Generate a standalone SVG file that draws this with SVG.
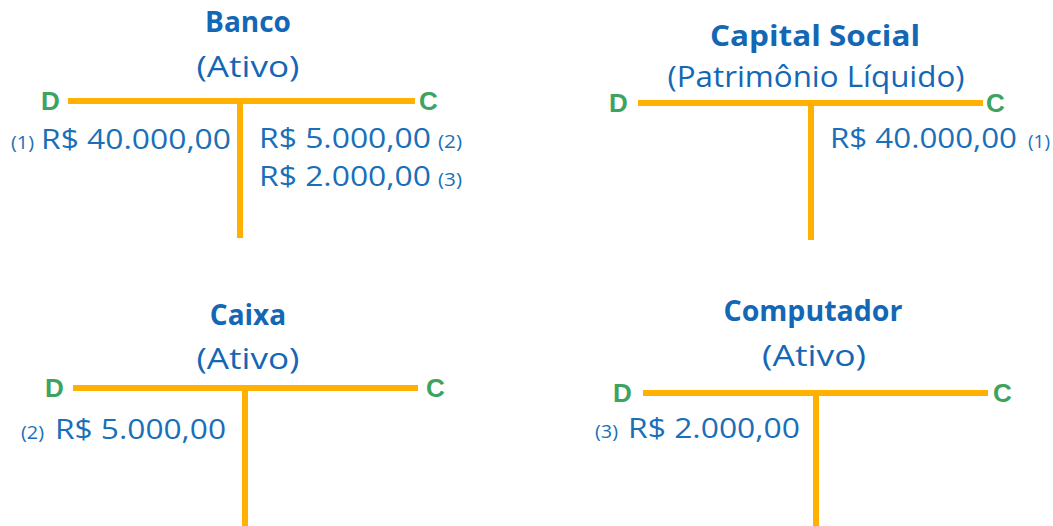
<svg xmlns="http://www.w3.org/2000/svg" width="1053" height="526" viewBox="0 0 1053 526">
<style>
.title{font-family:"Open Sans","DejaVu Sans",sans-serif;font-weight:bold;font-size:28px;fill:#1467B5;text-anchor:middle}
.sub{font-family:"Open Sans","DejaVu Sans",sans-serif;font-size:29px;fill:#1467B5;text-anchor:middle}
.dc{font-family:"Liberation Sans",Arial,sans-serif;font-weight:bold;font-size:26px;fill:#3DA35F}
.val{font-family:"Open Sans","DejaVu Sans",sans-serif;font-size:28px;fill:#1A6FB8}
.ref{font-family:"Open Sans","DejaVu Sans",sans-serif;font-size:18px;fill:#1A6FB8}
.t{stroke:#FFB000;stroke-width:6;fill:none}
</style>
<rect width="1053" height="526" fill="#ffffff"/>
<g id="connectors">
<path class="t" d="M68 101H415M240 101V238"/>
<path class="t" d="M638 103H983M811 103V240"/>
<path class="t" d="M73 388H418M245 388V526"/>
<path class="t" d="M643 393H988M816 393V526"/>
</g>
<g id="banco">
<text class="title" x="248" y="32">Banco</text>
<text class="sub" x="248" y="77" textLength="103" lengthAdjust="spacingAndGlyphs">(Ativo)</text>
<text class="dc" x="41" y="110">D</text>
<text class="dc" x="419" y="110">C</text>
<text class="ref" x="11" y="149" textLength="23" lengthAdjust="spacingAndGlyphs">(1)</text>
<text class="val" x="41" y="149" textLength="190" lengthAdjust="spacingAndGlyphs">R$ 40.000,00</text>
<text class="val" x="259" y="148" textLength="172" lengthAdjust="spacingAndGlyphs">R$ 5.000,00</text>
<text class="ref" x="438" y="148" textLength="24" lengthAdjust="spacingAndGlyphs">(2)</text>
<text class="val" x="259" y="186" textLength="172" lengthAdjust="spacingAndGlyphs">R$ 2.000,00</text>
<text class="ref" x="438" y="186" textLength="24" lengthAdjust="spacingAndGlyphs">(3)</text>
</g>
<g id="capital-social">
<text class="title" x="815" y="46" textLength="210" lengthAdjust="spacingAndGlyphs">Capital Social</text>
<text class="sub" x="816" y="87" textLength="297" lengthAdjust="spacingAndGlyphs">(Patrimônio Líquido)</text>
<text class="dc" x="609" y="112">D</text>
<text class="dc" x="986" y="112">C</text>
<text class="val" x="830" y="148" textLength="187" lengthAdjust="spacingAndGlyphs">R$ 40.000,00</text>
<text class="ref" x="1028" y="148" textLength="22" lengthAdjust="spacingAndGlyphs">(1)</text>
</g>
<g id="caixa">
<text class="title" x="248" y="325">Caixa</text>
<text class="sub" x="248" y="369" textLength="103" lengthAdjust="spacingAndGlyphs">(Ativo)</text>
<text class="dc" x="45" y="397">D</text>
<text class="dc" x="426" y="397">C</text>
<text class="ref" x="21" y="439" textLength="23" lengthAdjust="spacingAndGlyphs">(2)</text>
<text class="val" x="55" y="439" textLength="171" lengthAdjust="spacingAndGlyphs">R$ 5.000,00</text>
</g>
<g id="computador">
<text class="title" x="813" y="321" textLength="179" lengthAdjust="spacingAndGlyphs">Computador</text>
<text class="sub" x="814" y="366" textLength="104" lengthAdjust="spacingAndGlyphs">(Ativo)</text>
<text class="dc" x="613" y="402">D</text>
<text class="dc" x="993" y="402">C</text>
<text class="ref" x="595" y="438" textLength="23" lengthAdjust="spacingAndGlyphs">(3)</text>
<text class="val" x="628" y="438" textLength="172" lengthAdjust="spacingAndGlyphs">R$ 2.000,00</text>
</g>
</svg>
